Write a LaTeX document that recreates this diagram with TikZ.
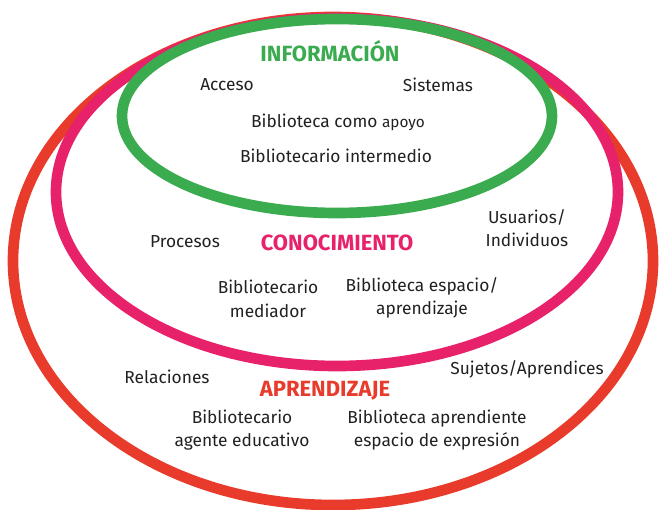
\documentclass[tikz,border=0pt]{standalone}
\usepackage{xcolor}
\usepackage{fontspec}
\setmainfont{Fira Sans}
\usepackage{tikz}

\definecolor{infogreen}{rgb}{0.23,0.67,0.31}
\definecolor{conopink}{rgb}{0.91,0.13,0.42}
\definecolor{aprered}{rgb}{0.91,0.23,0.17}
\definecolor{txtgray}{rgb}{0.13,0.13,0.13}

\tikzset{
  ring/.style={line width=8pt},
  lbl/.style={inner sep=0.75pt, align=center, text=txtgray, font=\fontsize{13}{17.5}\selectfont},
  ttl/.style={inner sep=0.75pt, align=center, font=\fontsize{16.5}{18}\selectfont\bfseries}
}

\begin{document}
\begin{tikzpicture}[x=0.75pt,y=0.75pt,yscale=-1,xscale=1]
        \useasboundingbox (0,0) rectangle (661,510);
        % rings
        \draw [ring, aprered] (333,261) ellipse [x radius=320, y radius=244];
        \draw [ring, conopink] (337,192) ellipse [x radius=281, y radius=174];
        \draw [ring, infogreen] (337,116) ellipse [x radius=215, y radius=97];
        % informacion
        \draw (330,51) node (info) [ttl, text=infogreen] {INFORMACIÓN};
        \draw (227,85) node (acceso) [lbl] {Acceso};
        \draw (438,85) node (sistemas) [lbl] {Sistemas};
        \draw (338,122) node (bibapoyo) [lbl] {Biblioteca como {\fontsize{11.5}{12}\selectfont apoyo}};
        \draw (336,156) node (bibinter) [lbl] {Bibliotecario intermedio};
        % conocimiento
        \draw (337,243) node (cono) [ttl, text=conopink] {CONOCIMIENTO};
        \draw (185,242) node (procesos) [lbl] {Procesos};
        \draw (527,228) node (usuarios) [lbl] {Usuarios/\\Individuos};
        \draw (268,299) node (bibmed) [lbl] {Bibliotecario\\mediador};
        \draw (422,298) node (bibesp) [lbl] {Biblioteca espacio/\\aprendizaje};
        % aprendizaje
        \draw (325,391) node (apre) [ttl, text=aprered] {APRENDIZAJE};
        \draw (167,377) node (relaciones) [lbl] {Relaciones};
        \draw (527,369) node (sujetos) [lbl] {Sujetos/Aprendices};
        \draw (242,430) node (bibagente) [lbl] {Bibliotecario\\agente educativo};
        \draw (437,430) node (bibaprend) [lbl] {Biblioteca aprendiente\\espacio de expresión};
    \end{tikzpicture}
\end{document}
